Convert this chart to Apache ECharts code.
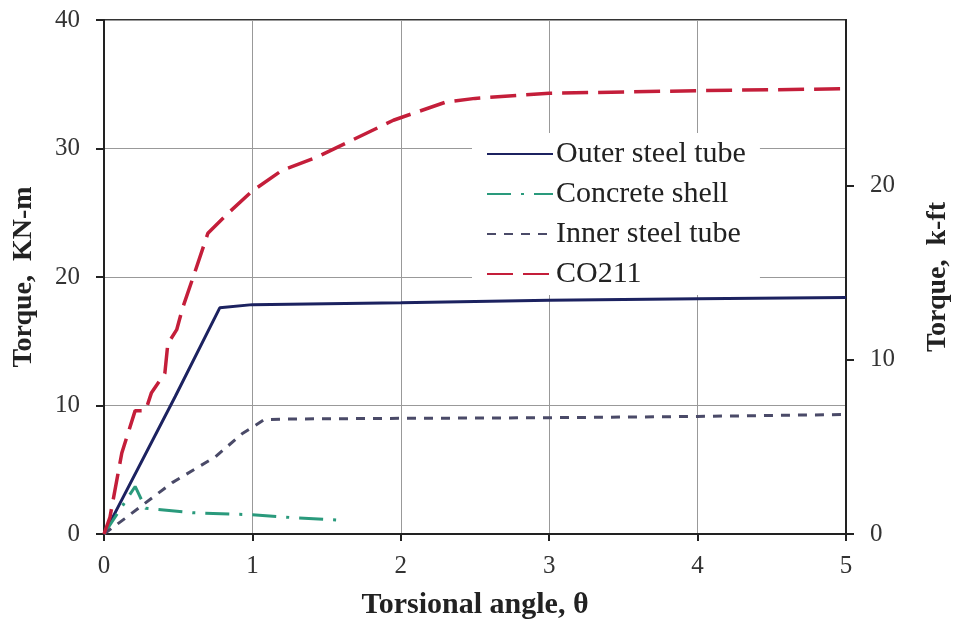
<!DOCTYPE html>
<html>
<head>
<meta charset="utf-8">
<script src="https://cdn.jsdelivr.net/npm/echarts@6/dist/echarts.min.js"></script>
<style>html,body{margin:0;padding:0;background:#fff}#c{width:954px;height:625px}</style>
</head>
<body>
<div id="c"></div>
<script>
var xTicks = [0, 1, 2, 3, 4, 5];
var yLeftTicks = [0, 10, 20, 30, 40];
var yRightTicks = [0, 10, 20];
var seriesNames = ['Outer steel tube', 'Concrete shell', 'Inner steel tube', 'CO211'];

var outerX = [0, 0.05, 0.48, 0.78, 1.0, 2.0, 3.0, 4.0, 5.0];
var outerY = [0, 1.1, 10.7, 17.6, 17.85, 18.0, 18.2, 18.3, 18.4];

var shellX = [0, 0.21, 0.28, 0.6, 1.0, 1.3, 1.63];
var shellY = [0, 3.7, 2.0, 1.65, 1.5, 1.25, 1.05];

var innerX = [0, 0.14, 0.46, 0.75, 0.93, 1.08, 1.24, 2.0, 3.0, 4.0, 5.0];
var innerY = [0, 1.2, 4.0, 6.0, 7.8, 8.9, 8.95, 9.0, 9.05, 9.15, 9.3];

var coX = [0, 0.04, 0.12, 0.21, 0.28, 0.32, 0.41, 0.43, 0.49, 0.53, 0.61, 0.70, 0.84, 1.0, 1.2, 1.43, 1.95, 2.3, 2.5, 3.0, 4.0, 5.0];
var coY = [0, 1.3, 6.3, 9.6, 9.6, 11.0, 12.5, 14.8, 15.9, 17.6, 20.3, 23.4, 25.0, 26.7, 28.3, 29.3, 32.2, 33.6, 33.9, 34.3, 34.5, 34.65];

var kNmPerKft = 1.35582;

function zip(xs, ys) { return xs.map(function (x, i) { return [x, ys[i]]; }); }

var serif = '"Liberation Serif","Times New Roman",serif';
var chart = echarts.init(document.getElementById('c'));
chart.setOption({
  animation: false,
  backgroundColor: '#fff',
  grid: { left: 104, right: 108, top: 20, bottom: 91, outerBoundsMode: 'none', containLabel: false,
    show: true, borderColor: '#333', borderWidth: 2, backgroundColor: 'transparent' },
  legend: {
    orient: 'vertical', left: 472, top: 133,
    backgroundColor: '#fff',
    padding: [6, 14, 6, 14],
    itemWidth: 66, itemHeight: 20, itemGap: 10,
    itemStyle: { opacity: 0 },
    textStyle: { fontFamily: serif, fontSize: 30, color: '#222', padding: [0, 0, 0, -2] },
    data: seriesNames
  },
  xAxis: {
    type: 'value', min: 0, max: 5, interval: 1,
    name: 'Torsional angle, θ', nameLocation: 'middle', nameGap: 56,
    nameTextStyle: { fontFamily: serif, fontSize: 30, fontWeight: 'bold', color: '#222' },
    axisLine: { show: true, onZero: false, lineStyle: { color: '#222', width: 2 } },
    axisTick: { show: true, inside: false, length: 7, lineStyle: { color: '#222', width: 2 } },
    axisLabel: { fontFamily: serif, fontSize: 25, color: '#333', margin: 20,
      customValues: xTicks },
    splitLine: { show: true, lineStyle: { color: '#999', width: 1 } }
  },
  yAxis: [{
    type: 'value', min: 0, max: 40, interval: 10, position: 'left',
    name: 'Torque,  KN-m', nameLocation: 'middle', nameGap: 66, nameRotate: 90,
    nameTextStyle: { fontFamily: serif, fontSize: 28, fontWeight: 'bold', color: '#222' },
    axisLine: { show: true, onZero: false, lineStyle: { color: '#222', width: 2 } },
    axisTick: { show: true, inside: false, length: 8, lineStyle: { color: '#222', width: 2 } },
    axisLabel: { fontFamily: serif, fontSize: 25, color: '#333', margin: 24, customValues: yLeftTicks },
    splitLine: { show: true, lineStyle: { color: '#999', width: 1 } }
  }, {
    type: 'value', min: 0, max: 40 / kNmPerKft, position: 'right',
    name: 'Torque,  k-ft', nameLocation: 'middle', nameGap: 78, nameRotate: 90,
    nameTextStyle: { fontFamily: serif, fontSize: 28, fontWeight: 'bold', color: '#222' },
    axisLine: { show: true, onZero: false, lineStyle: { color: '#222', width: 2 } },
    axisTick: { show: true, inside: false, length: 8, lineStyle: { color: '#222', width: 2 }, customValues: yRightTicks },
    axisLabel: { fontFamily: serif, fontSize: 25, color: '#333', margin: 24, customValues: yRightTicks },
    splitLine: { show: false }
  }],
  series: [{
    name: seriesNames[0], type: 'line', symbol: 'none', data: zip(outerX, outerY),
    lineStyle: { color: '#1c2260', width: 3 }, itemStyle: { color: '#1c2260' }, z: 3
  }, {
    name: seriesNames[1], type: 'line', symbol: 'none', data: zip(shellX, shellY),
    lineStyle: { color: '#2a9a7c', width: 3, type: [24, 10, 3, 10] }, itemStyle: { color: '#2a9a7c' }, z: 3
  }, {
    name: seriesNames[2], type: 'line', symbol: 'none', data: zip(innerX, innerY),
    lineStyle: { color: '#4a4a68', width: 3, type: [9, 8] }, itemStyle: { color: '#4a4a68' }, z: 3
  }, {
    name: seriesNames[3], type: 'line', symbol: 'none', data: zip(coX, coY),
    lineStyle: { color: '#c41e3a', width: 3.5, type: [26, 10] }, itemStyle: { color: '#c41e3a' }, z: 4
  }]
});
</script>
</body>
</html>
